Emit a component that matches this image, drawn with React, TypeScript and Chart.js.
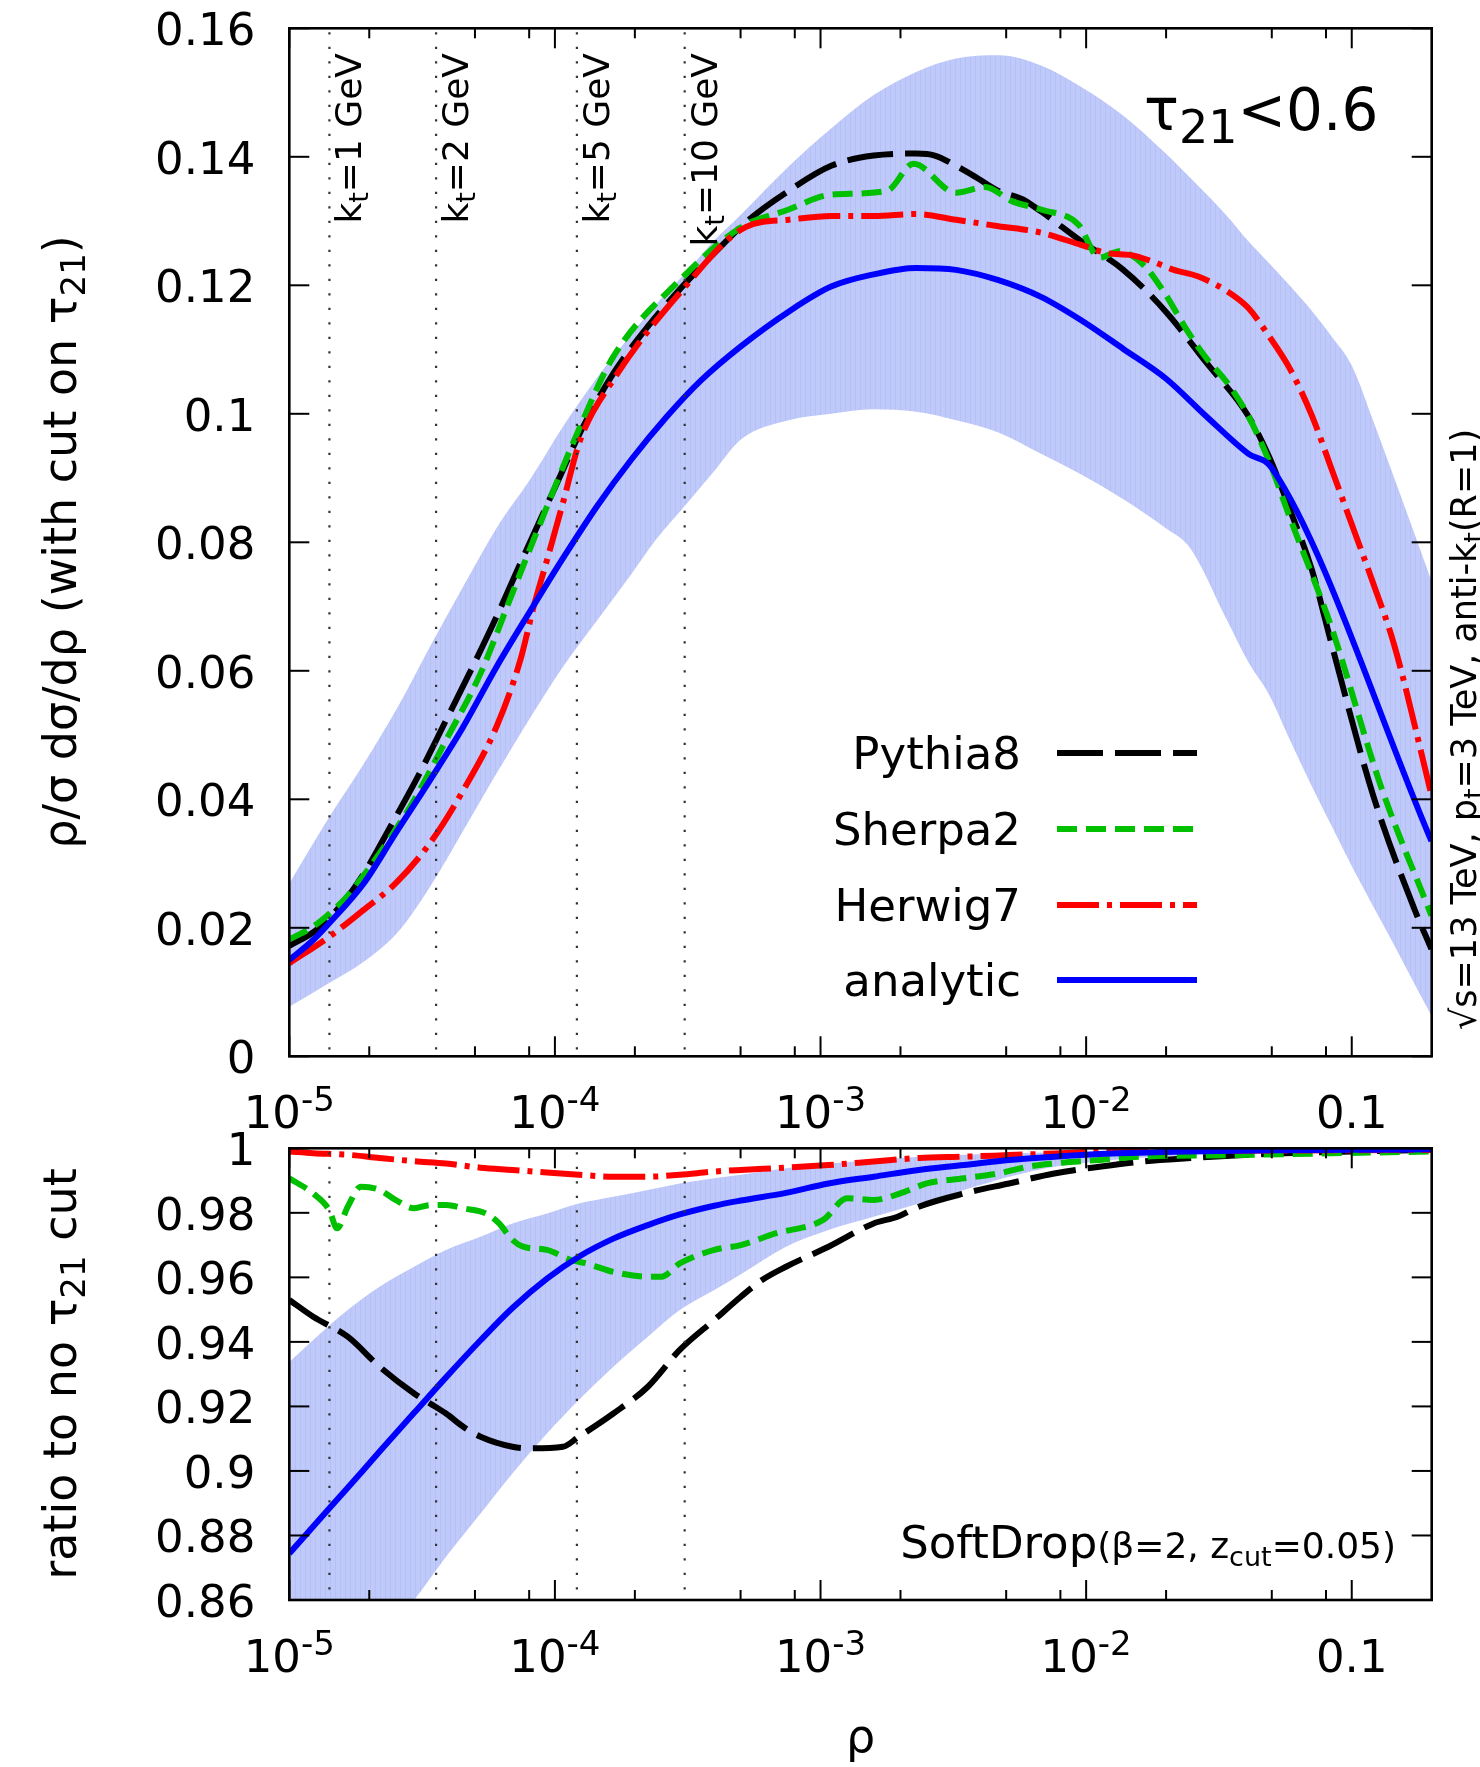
import React, { useEffect, useRef } from 'react';
import { Chart, registerables } from 'chart.js';

Chart.register(...registerables);

// ---------------- data (x given as log10 of rho) ----------------
// Upper panel: rho/sigma dsigma/drho (with cut on tau21)
const pythiaTopLogRho = [-5.0, -4.9, -4.8, -4.72, -4.62, -4.51, -4.41, -4.31, -4.22, -4.13, -4.0, -3.9, -3.78, -3.65, -3.52, -3.4, -3.27, -3.12, -2.96, -2.8, -2.64, -2.57, -2.49, -2.41, -2.33, -2.24, -2.17, -2.02, -1.86, -1.7, -1.55, -1.39, -1.31, -1.23, -1.15, -1.075, -0.92, -0.76, -0.7];
const pythiaTop = [0.0172, 0.0196, 0.0238, 0.0284, 0.0357, 0.044, 0.0523, 0.0606, 0.0684, 0.0767, 0.0885, 0.0975, 0.1063, 0.1136, 0.1198, 0.125, 0.1302, 0.1347, 0.1386, 0.1402, 0.1405, 0.1402, 0.1386, 0.1367, 0.1347, 0.1334, 0.1315, 0.1269, 0.1224, 0.1159, 0.1081, 0.0997, 0.0932, 0.0848, 0.0757, 0.064, 0.0407, 0.0225, 0.0167];

const sherpaTopLogRho = [-5.0, -4.91, -4.82, -4.78, -4.66, -4.53, -4.41, -4.28, -4.16, -4.08, -3.9, -3.78, -3.53, -3.3, -3.12, -2.96, -2.75, -2.65, -2.49, -2.38, -2.28, -2.17, -2.03, -1.95, -1.875, -1.78, -1.7, -1.625, -1.55, -1.47, -1.39, -1.31, -1.23, -1.15, -1.075, -0.89, -0.7];
const sherpaTop = [0.0182, 0.0202, 0.0233, 0.025, 0.0316, 0.0399, 0.0492, 0.0596, 0.0721, 0.0804, 0.0985, 0.1089, 0.1208, 0.129, 0.1318, 0.1341, 0.1347, 0.1389, 0.1344, 0.1353, 0.1331, 0.1318, 0.1295, 0.1243, 0.1253, 0.123, 0.1185, 0.1133, 0.1088, 0.1049, 0.0997, 0.0925, 0.0835, 0.075, 0.0666, 0.042, 0.0219];

const herwigTopLogRho = [-5.0, -4.85, -4.72, -4.6, -4.47, -4.345, -4.22, -4.13, -4.08, -4.03, -3.97, -3.905, -3.78, -3.53, -3.28, -3.12, -2.96, -2.8, -2.64, -2.49, -2.33, -2.17, -2.02, -1.92, -1.83, -1.75, -1.67, -1.58, -1.47, -1.39, -1.31, -1.23, -1.15, -1.075, -1.0, -0.92, -0.84, -0.7];
const herwigTop = [0.0145, 0.0186, 0.0228, 0.0269, 0.0332, 0.0414, 0.0513, 0.0617, 0.07, 0.0772, 0.0861, 0.0959, 0.1053, 0.1188, 0.1291, 0.1302, 0.1308, 0.1308, 0.1311, 0.1302, 0.1292, 0.1282, 0.1263, 0.125, 0.1247, 0.1237, 0.1224, 0.1214, 0.1191, 0.1165, 0.112, 0.1068, 0.0997, 0.0913, 0.0828, 0.0737, 0.064, 0.0407];

const analyticTopLogRho = [-5.0, -4.91, -4.85, -4.72, -4.6, -4.47, -4.345, -4.22, -4.09, -3.97, -3.84, -3.71, -3.58, -3.45, -3.3, -3.12, -2.96, -2.8, -2.64, -2.49, -2.33, -2.17, -2.02, -1.86, -1.7, -1.55, -1.39, -1.3, -0.7];
const analyticTop = [0.015, 0.0181, 0.0207, 0.0269, 0.0347, 0.043, 0.0513, 0.0606, 0.0695, 0.0775, 0.0857, 0.093, 0.0995, 0.1052, 0.1105, 0.1159, 0.1198, 0.1217, 0.1227, 0.1224, 0.1208, 0.1182, 0.1146, 0.1101, 0.1055, 0.0997, 0.0938, 0.0915, 0.0335];

const bandTopLogRho = [-5.0, -4.85, -4.72, -4.59, -4.47, -4.34, -4.22, -4.09, -3.97, -3.84, -3.71, -3.62, -3.5, -3.4, -3.3, -3.12, -2.96, -2.8, -2.64, -2.49, -2.33, -2.17, -2.02, -1.86, -1.7, -1.61, -1.47, -1.39, -1.31, -1.23, -1.15, -1.075, -1.0, -0.92, -0.84, -0.76, -0.7];
const bandTopUpper = [0.0269, 0.0372, 0.0455, 0.0545, 0.0638, 0.0735, 0.0822, 0.09, 0.098, 0.1057, 0.1125, 0.117, 0.1223, 0.127, 0.131, 0.1385, 0.1444, 0.1496, 0.1532, 0.1553, 0.1558, 0.1542, 0.1509, 0.1464, 0.1405, 0.1368, 0.1308, 0.1269, 0.1234, 0.1198, 0.116, 0.112, 0.1075, 0.099, 0.09, 0.0809, 0.074];
const bandTopLower = [0.0077, 0.0114, 0.0147, 0.0194, 0.0264, 0.0355, 0.044, 0.0529, 0.0606, 0.0679, 0.0752, 0.0804, 0.0862, 0.0911, 0.096, 0.099, 0.1, 0.1007, 0.1003, 0.099, 0.0971, 0.0938, 0.0906, 0.0867, 0.0822, 0.0792, 0.0679, 0.0614, 0.0562, 0.049, 0.042, 0.0358, 0.0296, 0.0234, 0.0173, 0.011, 0.0063];

// Lower panel: ratio to no tau21 cut
const pythiaRatioLogRho = [-5.0, -4.91, -4.78, -4.66, -4.53, -4.47, -4.41, -4.345, -4.28, -4.16, -4.09, -3.97, -3.91, -3.78, -3.65, -3.53, -3.4, -3.3, -3.22, -3.13, -2.97, -2.8, -2.71, -2.63, -2.46, -2.29, -2.12, -1.95, -1.79, -1.62, -1.28, -0.7];
const pythiaRatio = [0.953, 0.9478, 0.9416, 0.9323, 0.924, 0.9209, 0.9178, 0.9137, 0.9106, 0.9075, 0.907, 0.9075, 0.9106, 0.9178, 0.9261, 0.9375, 0.9468, 0.954, 0.9592, 0.9633, 0.9695, 0.9767, 0.9788, 0.9819, 0.986, 0.9891, 0.9922, 0.9943, 0.9959, 0.9969, 0.9984, 0.9995];

const sherpaRatioLogRho = [-5.0, -4.91, -4.85, -4.82, -4.78, -4.73, -4.66, -4.6, -4.53, -4.47, -4.41, -4.345, -4.26, -4.21, -4.16, -4.12, -4.03, -3.94, -3.88, -3.78, -3.65, -3.6, -3.53, -3.4, -3.3, -3.17, -2.99, -2.9, -2.8, -2.7, -2.6, -2.46, -2.33, -2.22, -2.12, -1.95, -1.79, -1.45, -0.7];
const sherpaRatio = [0.9907, 0.986, 0.9809, 0.9752, 0.9819, 0.9881, 0.9871, 0.984, 0.9814, 0.9824, 0.9824, 0.9814, 0.9798, 0.9767, 0.9716, 0.9695, 0.9685, 0.9654, 0.9643, 0.9617, 0.9602, 0.9602, 0.9643, 0.9685, 0.97, 0.9736, 0.9778, 0.9845, 0.984, 0.986, 0.9891, 0.9907, 0.9922, 0.9943, 0.9953, 0.9964, 0.9974, 0.9979, 0.999];

const herwigRatioLogRho = [-5.0, -4.91, -4.78, -4.66, -4.53, -4.41, -4.28, -4.16, -4.03, -3.91, -3.78, -3.65, -3.53, -3.4, -3.3, -3.13, -2.97, -2.8, -2.63, -2.46, -2.29, -2.12, -1.95, -1.62, -0.7];
const herwigRatio = [0.999, 0.9985, 0.998, 0.997, 0.996, 0.9953, 0.994, 0.9933, 0.9925, 0.9918, 0.9912, 0.9912, 0.9918, 0.9928, 0.9933, 0.994, 0.9948, 0.9959, 0.997, 0.9974, 0.9979, 0.9984, 0.999, 0.9992, 0.9995];

const analyticRatioLogRho = [-5.0, -4.91, -4.78, -4.66, -4.53, -4.41, -4.28, -4.16, -4.03, -3.91, -3.78, -3.65, -3.53, -3.4, -3.3, -3.13, -2.97, -2.8, -2.63, -2.46, -2.29, -2.12, -1.95, -1.62, -0.7];
const analyticRatio = [0.8744, 0.8828, 0.8948, 0.906, 0.918, 0.929, 0.9405, 0.9505, 0.9596, 0.9664, 0.972, 0.9762, 0.9795, 0.9822, 0.9838, 0.9862, 0.9891, 0.9912, 0.9933, 0.9948, 0.9964, 0.9974, 0.9982, 0.999, 0.9997];

const bandRatioLogRho = [-5.0, -4.91, -4.78, -4.66, -4.53, -4.41, -4.28, -4.16, -4.03, -3.91, -3.78, -3.65, -3.53, -3.4, -3.3, -3.13, -2.97, -2.8, -2.63, -2.46, -2.29, -2.12, -1.6, -0.7];
const bandRatioUpper = [0.9338, 0.9406, 0.9499, 0.9571, 0.9633, 0.9685, 0.9726, 0.9767, 0.9798, 0.9829, 0.985, 0.9871, 0.9891, 0.9907, 0.9918, 0.9938, 0.9953, 0.9964, 0.9974, 0.998, 0.9984, 0.9988, 0.9995, 1.0];
const bandRatioLower = [0.81, 0.82, 0.835, 0.847, 0.86, 0.8734, 0.8868, 0.8992, 0.9116, 0.922, 0.9323, 0.9416, 0.9499, 0.9561, 0.961, 0.9695, 0.9747, 0.9788, 0.9829, 0.9871, 0.9912, 0.9943, 0.998, 0.9995];

// kt reference lines
const ktRho = [1.416e-5, 3.57e-5, 1.21e-4, 3.08e-4];
const ktValues = ['1', '2', '5', '10'];

// axes
const xMin = 1e-5;
const xMax = 0.2;
const xMajorTicks = [1e-5, 1e-4, 1e-3, 1e-2, 1e-1];
const xMajorLabels: [string, string][] = [['10', '-5'], ['10', '-4'], ['10', '-3'], ['10', '-2'], ['0.1', '']];
const xMinorTicks = [2e-5, 5e-5, 8e-5, 2e-4, 5e-4, 8e-4, 2e-3, 5e-3, 8e-3, 2e-2, 5e-2, 8e-2];
const yTopTicks = [0, 0.02, 0.04, 0.06, 0.08, 0.1, 0.12, 0.14, 0.16];
const yTopLabels = ['0', '0.02', '0.04', '0.06', '0.08', '0.1', '0.12', '0.14', '0.16'];
const yBotTicks = [0.86, 0.88, 0.9, 0.92, 0.94, 0.96, 0.98, 1.0];
const yBotLabels = ['0.86', '0.88', '0.9', '0.92', '0.94', '0.96', '0.98', '1'];

const seriesNames = ['Pythia8', 'Sherpa2', 'Herwig7', 'analytic'];
const seriesColors = ['#000000', '#00c000', '#ff0000', '#0000ff'];
const seriesDash = [[46, 12], [20, 9], [42, 8, 5, 8], []];

// ---------------- layout ----------------
const W = 1480;
const TOP_H = 1130;
const BOT_H = 637;
const PLOT_L = 289.3;
const PLOT_R = 1431.7;
const FONT = '"DejaVu Sans", sans-serif';

type Run = { t: string; s: number; dy?: number };

function drawRuns(ctx: CanvasRenderingContext2D, runs: Run[], x: number, y: number, align: 'left' | 'right' | 'center', rot = 0) {
  ctx.save();
  ctx.translate(x, y);
  if (rot) ctx.rotate(rot);
  ctx.fillStyle = '#000';
  ctx.textBaseline = 'alphabetic';
  ctx.textAlign = 'left';
  let total = 0;
  const widths = runs.map((r) => {
    ctx.font = `${r.s}px ${FONT}`;
    const w = ctx.measureText(r.t).width;
    total += w;
    return w;
  });
  let cx = align === 'left' ? 0 : align === 'right' ? -total : -total / 2;
  runs.forEach((r, i) => {
    ctx.font = `${r.s}px ${FONT}`;
    ctx.fillText(r.t, cx, r.dy || 0);
    cx += widths[i];
  });
  ctx.restore();
}

function drawPanel(chart: any, yTicks: number[], yLabels: string[], xLabelBaseline: number) {
  const ctx: CanvasRenderingContext2D = chart.ctx;
  const { left, right, top, bottom } = chart.chartArea;
  const xs = chart.scales.x;
  const ys = chart.scales.y;
  ctx.save();
  // kt dotted lines
  ctx.strokeStyle = '#333';
  ctx.lineWidth = 2.2;
  ctx.setLineDash([2.2, 12.3]);
  for (const r of ktRho) {
    const px = xs.getPixelForValue(r);
    ctx.beginPath();
    ctx.moveTo(px, top + 4);
    ctx.lineTo(px, bottom);
    ctx.stroke();
  }
  ctx.setLineDash([]);
  // ticks
  ctx.strokeStyle = '#000';
  ctx.lineWidth = 2;
  const vline = (x: number, y1: number, y2: number) => {
    ctx.beginPath();
    ctx.moveTo(x, y1);
    ctx.lineTo(x, y2);
    ctx.stroke();
  };
  const hline = (y: number, x1: number, x2: number) => {
    ctx.beginPath();
    ctx.moveTo(x1, y);
    ctx.lineTo(x2, y);
    ctx.stroke();
  };
  for (const v of xMajorTicks) {
    const px = xs.getPixelForValue(v);
    vline(px, bottom, bottom - 20);
    vline(px, top, top + 20);
  }
  for (const v of xMinorTicks) {
    const px = xs.getPixelForValue(v);
    vline(px, bottom, bottom - 10);
    vline(px, top, top + 10);
  }
  for (const v of yTicks) {
    const py = ys.getPixelForValue(v);
    hline(py, left, left + 20);
    hline(py, right, right - 20);
  }
  ctx.lineWidth = 2.6;
  ctx.strokeRect(left, top, right - left, bottom - top);
  ctx.restore();

  // tick labels
  yTicks.forEach((v, i) => {
    const py = ys.getPixelForValue(v);
    drawRuns(ctx, [{ t: yLabels[i], s: 45 }], left - 34, py + 17, 'right');
  });
  xMajorTicks.forEach((v, i) => {
    const px = xs.getPixelForValue(v);
    const [base, sup] = xMajorLabels[i];
    const runs: Run[] = [{ t: base, s: 45 }];
    if (sup) runs.push({ t: sup, s: 34, dy: -17 });
    drawRuns(ctx, runs, px, xLabelBaseline, 'center');
  });
}

const topDecor = {
  id: 'topDecor',
  afterDatasetsDraw(chart: any) {
    const ctx: CanvasRenderingContext2D = chart.ctx;
    const xs = chart.scales.x;
    drawPanel(chart, yTopTicks, yTopLabels, 1128);
    // kt labels
    ktRho.forEach((r, i) => {
      const px = xs.getPixelForValue(r);
      drawRuns(ctx, [{ t: 'k', s: 36 }, { t: 't', s: 27, dy: 7 }, { t: '=' + ktValues[i] + ' GeV', s: 36 }], px + 32, 53, 'right', -Math.PI / 2);
    });
    // tau21 label
    drawRuns(ctx, [{ t: 'τ', s: 58 }, { t: '21', s: 46, dy: 13 }, { t: '<0.6', s: 58 }], 1144, 130, 'left');
    // y title
    drawRuns(ctx, [{ t: 'ρ/σ dσ/dρ (with cut on τ', s: 46 }, { t: '21', s: 34, dy: 9 }, { t: ')', s: 46 }], 76, 542, 'center', -Math.PI / 2);
    // right side text
    drawRuns(ctx, [
      { t: '√s=13 TeV, p', s: 35 }, { t: 't', s: 27, dy: 7 }, { t: '=3 TeV, anti-k', s: 35 }, { t: 't', s: 27, dy: 7 }, { t: '(R=1)', s: 35 },
    ], 1476, 1030, 'left', -Math.PI / 2);
    // legend
    const rows = [753, 829, 905, 980];
    seriesNames.forEach((name, i) => {
      drawRuns(ctx, [{ t: name, s: 45 }], 1021, rows[i] + 16, 'right');
      ctx.save();
      ctx.strokeStyle = seriesColors[i];
      ctx.lineWidth = 6;
      ctx.lineCap = 'butt';
      ctx.setLineDash(seriesDash[i]);
      ctx.beginPath();
      ctx.moveTo(1057, rows[i]);
      ctx.lineTo(1197, rows[i]);
      ctx.stroke();
      ctx.restore();
    });
  },
};

const botDecor = {
  id: 'botDecor',
  afterDatasetsDraw(chart: any) {
    const ctx: CanvasRenderingContext2D = chart.ctx;
    drawPanel(chart, yBotTicks, yBotLabels, 542);
    drawRuns(ctx, [{ t: 'ratio to no τ', s: 46 }, { t: '21', s: 34, dy: 9 }, { t: ' cut', s: 46 }], 76, 244, 'center', -Math.PI / 2);
    drawRuns(ctx, [{ t: 'ρ', s: 46 }], (PLOT_L + PLOT_R) / 2, 622, 'center');
    drawRuns(ctx, [{ t: 'SoftDrop', s: 45 }, { t: '(β=2, z', s: 36 }, { t: 'cut', s: 27, dy: 8 }, { t: '=0.05)', s: 36 }], 1396, 428, 'right');
  },
};

const pts = (lx: number[], v: number[]) => lx.map((l, i) => ({ x: Math.pow(10, l), y: v[i] }));

function makeBandPattern(): CanvasPattern | string {
  const c = document.createElement('canvas');
  c.width = 5;
  c.height = 2;
  const g = c.getContext('2d');
  if (!g) return '#bec8fa';
  g.fillStyle = '#bfc9fa';
  g.fillRect(0, 0, 5, 2);
  g.fillStyle = '#b5c0f7';
  g.fillRect(0, 0, 1, 2);
  return g.createPattern(c, 'repeat') || '#bec8fa';
}

function lineSet(label: string, data: any[], i: number) {
  return {
    label,
    data,
    borderColor: seriesColors[i],
    backgroundColor: seriesColors[i],
    borderWidth: 6,
    borderDash: seriesDash[i],
    borderCapStyle: 'butt',
    borderJoinStyle: 'round',
    pointRadius: 0,
    fill: false,
    cubicInterpolationMode: 'monotone',
    order: 3 - i,
  };
}

function bandSets(upper: any[], lower: any[], pattern: any) {
  return [
    { label: 'bandUpper', data: upper, borderWidth: 0, pointRadius: 0, fill: '+1', backgroundColor: pattern, borderColor: 'rgba(0,0,0,0)', cubicInterpolationMode: 'monotone', order: 10 },
    { label: 'bandLower', data: lower, borderWidth: 0, pointRadius: 0, fill: false, backgroundColor: pattern, borderColor: 'rgba(0,0,0,0)', cubicInterpolationMode: 'monotone', order: 11 },
  ];
}

function baseOptions(yMin: number, yMax: number, padding: any) {
  return {
    responsive: false,
    maintainAspectRatio: false,
    animation: false,
    devicePixelRatio: 1,
    layout: { padding },
    events: [],
    plugins: { legend: { display: false }, tooltip: { enabled: false } },
    scales: {
      x: { type: 'logarithmic', min: xMin, max: xMax, display: false },
      y: { type: 'linear', min: yMin, max: yMax, display: false },
    },
  };
}

export default function App() {
  const topRef = useRef<HTMLCanvasElement>(null);
  const botRef = useRef<HTMLCanvasElement>(null);

  useEffect(() => {
    if (!topRef.current || !botRef.current) return;
    const pattern = makeBandPattern();
    const top = new Chart(topRef.current, {
      type: 'line',
      data: {
        datasets: [
          lineSet('Pythia8', pts(pythiaTopLogRho, pythiaTop), 0),
          lineSet('Sherpa2', pts(sherpaTopLogRho, sherpaTop), 1),
          lineSet('Herwig7', pts(herwigTopLogRho, herwigTop), 2),
          lineSet('analytic', pts(analyticTopLogRho, analyticTop), 3),
          ...bandSets(pts(bandTopLogRho, bandTopUpper), pts(bandTopLogRho, bandTopLower), pattern),
        ] as any,
      },
      options: baseOptions(0, 0.16, { left: PLOT_L, right: W - PLOT_R, top: 28.3, bottom: TOP_H - 1056.3 }) as any,
      plugins: [topDecor],
    });
    const bot = new Chart(botRef.current, {
      type: 'line',
      data: {
        datasets: [
          lineSet('Pythia8', pts(pythiaRatioLogRho, pythiaRatio), 0),
          lineSet('Sherpa2', pts(sherpaRatioLogRho, sherpaRatio), 1),
          lineSet('Herwig7', pts(herwigRatioLogRho, herwigRatio), 2),
          lineSet('analytic', pts(analyticRatioLogRho, analyticRatio), 3),
          ...bandSets(pts(bandRatioLogRho, bandRatioUpper), pts(bandRatioLogRho, bandRatioLower), pattern),
        ] as any,
      },
      options: baseOptions(0.86, 1.0, { left: PLOT_L, right: W - PLOT_R, top: 1148.3 - TOP_H, bottom: BOT_H - (1600 - TOP_H) }) as any,
      plugins: [botDecor],
    });
    return () => {
      top.destroy();
      bot.destroy();
    };
  }, []);

  return (
    <div style={{ position: 'absolute', left: 0, top: 0, width: W, height: TOP_H + BOT_H, background: '#fff', overflow: 'hidden' }}>
      <canvas ref={topRef} width={W} height={TOP_H} style={{ position: 'absolute', left: 0, top: 0, width: W, height: TOP_H }} />
      <canvas ref={botRef} width={W} height={BOT_H} style={{ position: 'absolute', left: 0, top: TOP_H, width: W, height: BOT_H }} />
    </div>
  );
}
